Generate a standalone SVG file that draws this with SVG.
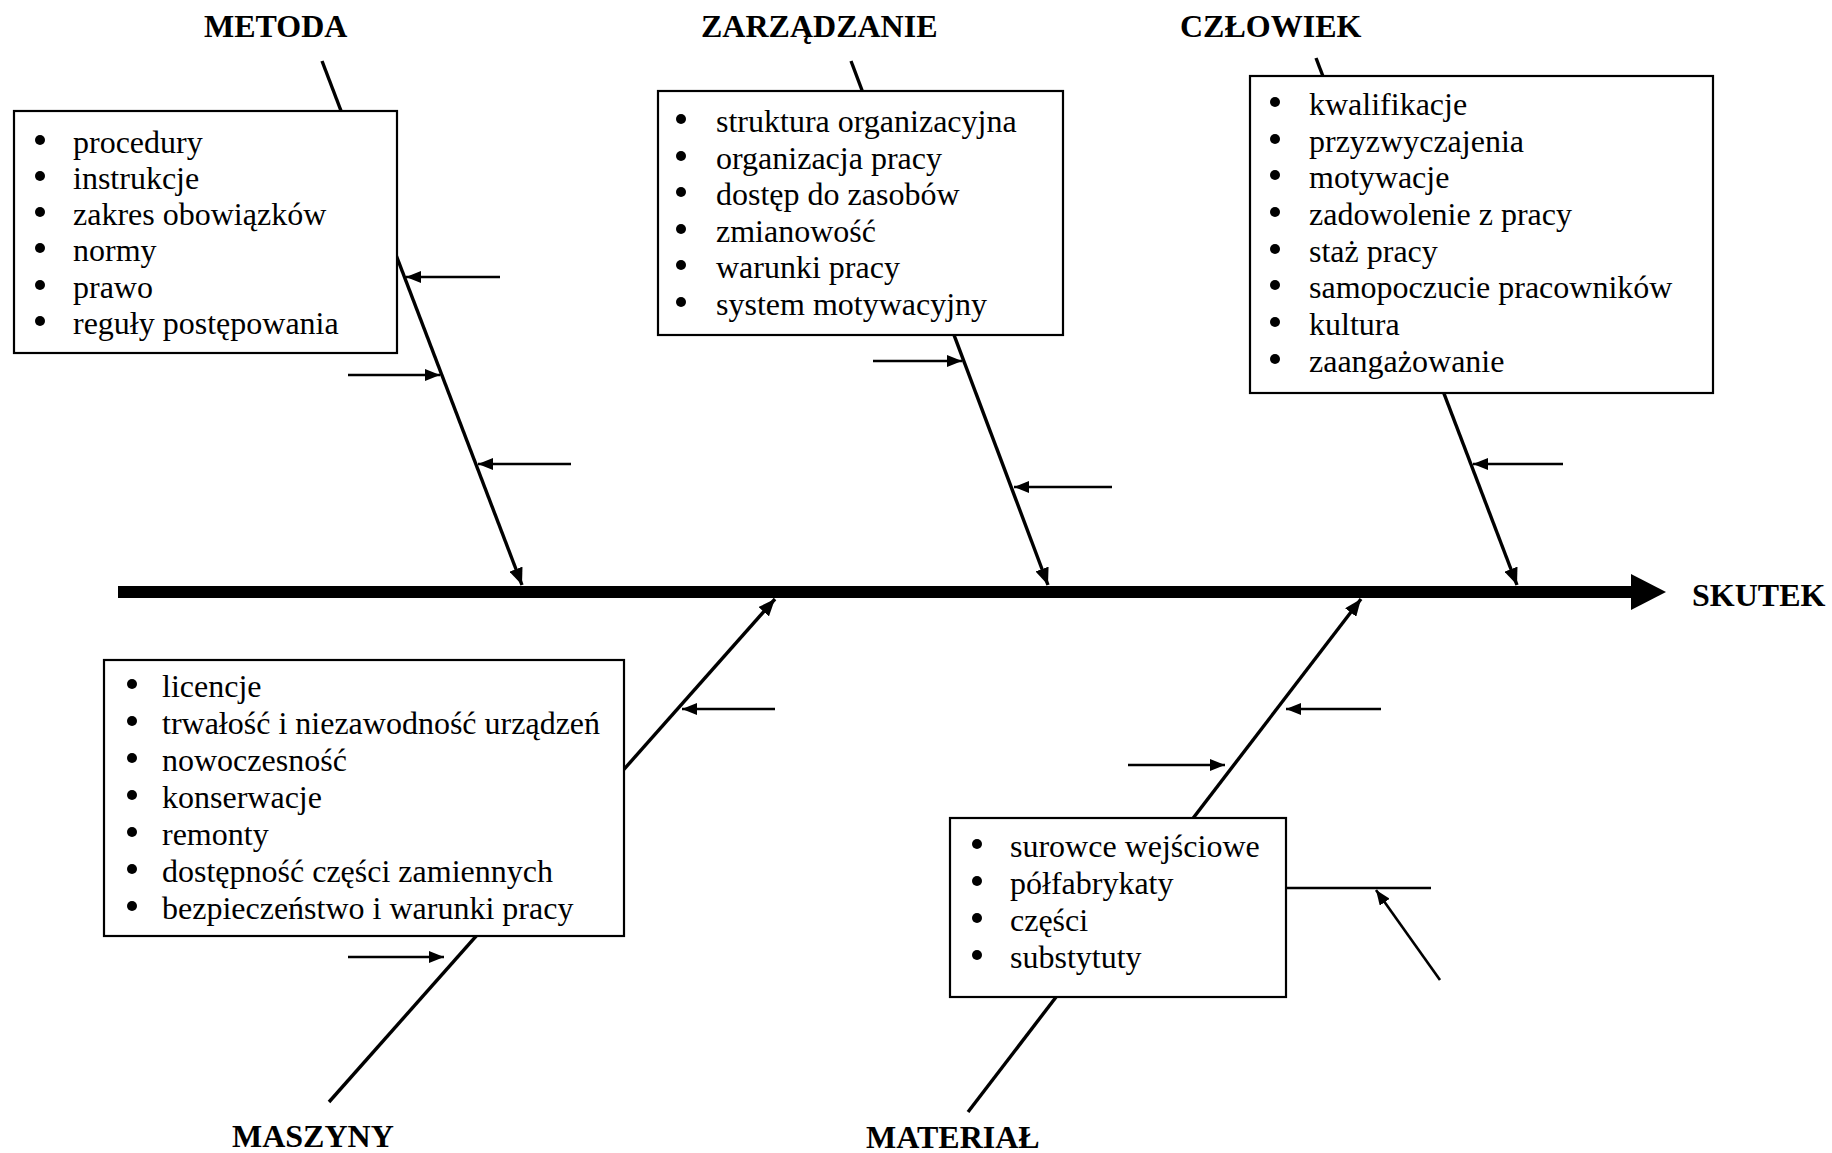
<svg xmlns="http://www.w3.org/2000/svg" width="1832" height="1153" viewBox="0 0 1832 1153">
<style>
.title{font-family:"Liberation Serif","Times New Roman",serif;font-weight:bold;font-size:32px;fill:#000}
.item{font-family:"Liberation Serif","Times New Roman",serif;font-size:32px;fill:#000}
.bul{fill:#000}
.box{fill:#fff;stroke:#000;stroke-width:2.2}
.branch{stroke:#000;stroke-width:3.4;fill:none}
.small{stroke:#000;stroke-width:2.6;fill:none}
</style>
<defs>
<marker id="ah" markerUnits="userSpaceOnUse" markerWidth="18" markerHeight="14" refX="17" refY="7" orient="auto">
<path d="M0,0 L17,7 L0,14 z" fill="#000"/>
</marker>
<marker id="as" markerUnits="userSpaceOnUse" markerWidth="16" markerHeight="12" refX="15" refY="6" orient="auto">
<path d="M0,0 L15,6 L0,12 z" fill="#000"/>
</marker>
</defs>
<rect x="0" y="0" width="1832" height="1153" fill="#fff"/>
<g id="connectors">
<line x1="118" y1="592" x2="1633" y2="592" stroke="#000" stroke-width="12"/>
<polygon points="1631,574 1666,592 1631,610" fill="#000"/>
<line class="branch" x1="322" y1="61" x2="522" y2="585" marker-end="url(#ah)"/>
<line class="branch" x1="851" y1="61" x2="1048" y2="585" marker-end="url(#ah)"/>
<line class="branch" x1="1316" y1="58" x2="1517" y2="585" marker-end="url(#ah)"/>
<line class="branch" x1="329" y1="1102" x2="775" y2="599" marker-end="url(#ah)"/>
<line class="branch" x1="968" y1="1112" x2="1361" y2="599" marker-end="url(#ah)"/>
<line class="small" x1="500" y1="277" x2="406" y2="277" marker-end="url(#as)"/>
<line class="small" x1="348" y1="375" x2="440" y2="375" marker-end="url(#as)"/>
<line class="small" x1="571" y1="464" x2="478" y2="464" marker-end="url(#as)"/>
<line class="small" x1="873" y1="361" x2="962" y2="361" marker-end="url(#as)"/>
<line class="small" x1="1112" y1="487" x2="1014" y2="487" marker-end="url(#as)"/>
<line class="small" x1="1563" y1="464" x2="1473" y2="464" marker-end="url(#as)"/>
<line class="small" x1="775" y1="709" x2="682" y2="709" marker-end="url(#as)"/>
<line class="small" x1="348" y1="957" x2="444" y2="957" marker-end="url(#as)"/>
<line class="small" x1="1381" y1="709" x2="1286" y2="709" marker-end="url(#as)"/>
<line class="small" x1="1128" y1="765" x2="1225" y2="765" marker-end="url(#as)"/>
<line class="small" x1="1286" y1="888" x2="1431" y2="888"/>
<line class="small" x1="1440" y1="980" x2="1376" y2="890" marker-end="url(#as)"/>
</g>
<g id="metoda">
<text class="title" x="204" y="37">METODA</text>
<rect class="box" x="14" y="111" width="383" height="242"/>
<g class="bul">
<circle cx="40" cy="140" r="5"/><circle cx="40" cy="176" r="5"/><circle cx="40" cy="212" r="5"/><circle cx="40" cy="248" r="5"/><circle cx="40" cy="285" r="5"/><circle cx="40" cy="321" r="5"/>
</g>
<g class="item">
<text x="73" y="153">procedury</text>
<text x="73" y="189">instrukcje</text>
<text x="73" y="225">zakres obowiązków</text>
<text x="73" y="261">normy</text>
<text x="73" y="298">prawo</text>
<text x="73" y="334">reguły postępowania</text>
</g>
</g>
<g id="zarzadzanie">
<text class="title" x="701" y="37">ZARZĄDZANIE</text>
<rect class="box" x="658" y="91" width="405" height="244"/>
<g class="bul">
<circle cx="681" cy="119" r="5"/><circle cx="681" cy="156" r="5"/><circle cx="681" cy="192" r="5"/><circle cx="681" cy="229" r="5"/><circle cx="681" cy="265" r="5"/><circle cx="681" cy="302" r="5"/>
</g>
<g class="item">
<text x="716" y="132">struktura organizacyjna</text>
<text x="716" y="169">organizacja pracy</text>
<text x="716" y="205">dostęp do zasobów</text>
<text x="716" y="242">zmianowość</text>
<text x="716" y="278">warunki pracy</text>
<text x="716" y="315">system motywacyjny</text>
</g>
</g>
<g id="czlowiek">
<text class="title" x="1180" y="37">CZŁOWIEK</text>
<rect class="box" x="1250" y="76" width="463" height="317"/>
<g class="bul">
<circle cx="1275" cy="102" r="5"/><circle cx="1275" cy="139" r="5"/><circle cx="1275" cy="175" r="5"/><circle cx="1275" cy="212" r="5"/><circle cx="1275" cy="249" r="5"/><circle cx="1275" cy="285" r="5"/><circle cx="1275" cy="322" r="5"/><circle cx="1275" cy="359" r="5"/>
</g>
<g class="item">
<text x="1309" y="115">kwalifikacje</text>
<text x="1309" y="152">przyzwyczajenia</text>
<text x="1309" y="188">motywacje</text>
<text x="1309" y="225">zadowolenie z pracy</text>
<text x="1309" y="262">staż pracy</text>
<text x="1309" y="298">samopoczucie pracowników</text>
<text x="1309" y="335">kultura</text>
<text x="1309" y="372">zaangażowanie</text>
</g>
</g>
<g id="skutek">
<text class="title" x="1692" y="606">SKUTEK</text>
</g>
<g id="maszyny">
<text class="title" x="232" y="1147">MASZYNY</text>
<rect class="box" x="104" y="660" width="520" height="276"/>
<g class="bul">
<circle cx="132" cy="684" r="5"/><circle cx="132" cy="721" r="5"/><circle cx="132" cy="758" r="5"/><circle cx="132" cy="795" r="5"/><circle cx="132" cy="832" r="5"/><circle cx="132" cy="869" r="5"/><circle cx="132" cy="906" r="5"/>
</g>
<g class="item">
<text x="162" y="697">licencje</text>
<text x="162" y="734">trwałość i niezawodność urządzeń</text>
<text x="162" y="771">nowoczesność</text>
<text x="162" y="808">konserwacje</text>
<text x="162" y="845">remonty</text>
<text x="162" y="882">dostępność części zamiennych</text>
<text x="162" y="919">bezpieczeństwo i warunki pracy</text>
</g>
</g>
<g id="material">
<text class="title" x="866" y="1148">MATERIAŁ</text>
<rect class="box" x="950" y="818" width="336" height="179"/>
<g class="bul">
<circle cx="977" cy="844" r="5"/><circle cx="977" cy="881" r="5"/><circle cx="977" cy="918" r="5"/><circle cx="977" cy="955" r="5"/>
</g>
<g class="item">
<text x="1010" y="857">surowce wejściowe</text>
<text x="1010" y="894">półfabrykaty</text>
<text x="1010" y="931">części</text>
<text x="1010" y="968">substytuty</text>
</g>
</g>
</svg>
